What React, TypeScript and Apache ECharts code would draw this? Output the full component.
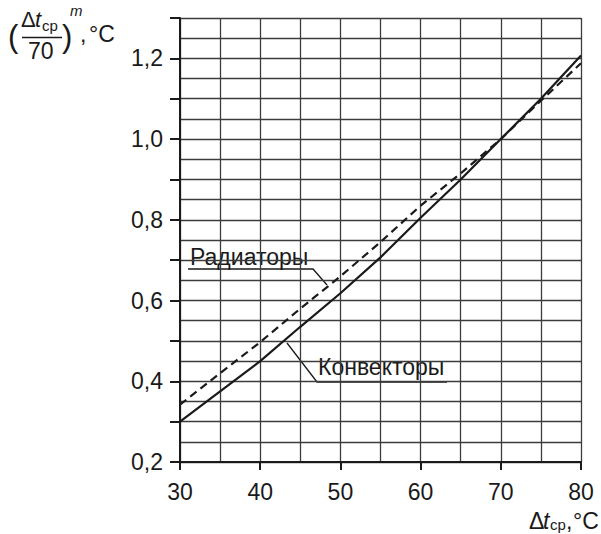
import React, { useEffect, useRef } from "react";
import * as echarts from "echarts";

const dtValues = [30, 35, 40, 45, 50, 55, 60, 65, 70, 75, 80];
const convectors = [0.3, 0.375, 0.45, 0.535, 0.618, 0.707, 0.805, 0.9, 1.0, 1.1, 1.207];
const radiators = [0.342, 0.42, 0.497, 0.58, 0.66, 0.745, 0.835, 0.915, 1.0, 1.095, 1.188];
const seriesNames = ["Конвекторы", "Радиаторы"];

const FONT = "'Liberation Sans', Arial, Helvetica, sans-serif";
const INK = "#1a1a1a";

function txt(text: string, x: number, y: number, size: number, extra: any = {}) {
  return {
    type: "text",
    x,
    y,
    style: {
      text,
      fontSize: size,
      fontFamily: FONT,
      fill: INK,
      verticalAlign: "top",
      ...extra,
    },
  };
}

export default function App() {
  const ref = useRef<HTMLDivElement>(null);
  useEffect(() => {
    if (!ref.current) return;
    const chart = echarts.init(ref.current, undefined, { renderer: "svg" });
    const grid = "#3c3c3c";
    chart.setOption({
      animation: false,
      backgroundColor: "#ffffff",
      grid: { left: 180, right: 20, top: 18, bottom: 72, containLabel: false },
      xAxis: {
        type: "value",
        min: 30,
        max: 80,
        interval: 10,
        axisLine: { show: true, lineStyle: { color: INK, width: 2 } },
        axisTick: { show: true, length: 8, lineStyle: { color: INK, width: 2 } },
        minorTick: { show: false, splitNumber: 2 },
        splitLine: { show: true, lineStyle: { color: grid, width: 1.3 } },
        minorSplitLine: { show: true, lineStyle: { color: grid, width: 1.3 } },
        axisLabel: { fontSize: 23, fontFamily: FONT, color: INK, margin: 18 },
      },
      yAxis: {
        type: "value",
        min: 0.2,
        max: 1.3,
        interval: 0.1,
        axisLine: { show: true, lineStyle: { color: INK, width: 2 } },
        axisTick: { show: true, length: 10, lineStyle: { color: INK, width: 2 } },
        minorTick: { show: false, splitNumber: 2 },
        splitLine: { show: true, lineStyle: { color: grid, width: 1.3 } },
        minorSplitLine: { show: true, lineStyle: { color: grid, width: 1.3 } },
        axisLabel: {
          fontSize: 23,
          fontFamily: FONT,
          color: INK,
          margin: 17,
          formatter: (v: number) =>
            Math.round(v * 10) % 2 === 0 ? v.toFixed(1).replace(".", ",") : "",
        },
      },
      series: [
        {
          name: seriesNames[0],
          type: "line",
          data: dtValues.map((d, i) => [d, convectors[i]]),
          showSymbol: false,
          symbol: "none",
          lineStyle: { color: INK, width: 2.2 },
        },
        {
          name: seriesNames[1],
          type: "line",
          data: dtValues.map((d, i) => [d, radiators[i]]),
          showSymbol: false,
          symbol: "none",
          lineStyle: { color: INK, width: 2.2, type: [8, 5] },
        },
      ],
      graphic: [
        // Y axis title: (Δt_ср / 70)^m, °C
        txt("(", 8, 21, 31, { fontWeight: 300 }),
        txt("Δ", 21, 8, 22),
        txt("t", 35, 8, 22, { fontStyle: "italic" }),
        txt("ср", 42, 18, 15),
        {
          type: "line",
          shape: { x1: 22, y1: 37.5, x2: 62, y2: 37.5 },
          style: { stroke: INK, lineWidth: 1.5 },
        },
        txt("70", 28, 39, 23),
        txt(")", 62, 21, 31, { fontWeight: 300 }),
        txt("m", 70, 3, 15, { fontStyle: "italic" }),
        txt(",", 80, 22, 23),
        txt("°C", 89, 22, 23),
        // X axis title: Δt_ср, °C
        txt("Δ", 529, 509, 23),
        txt("t", 543, 509, 23, { fontStyle: "italic" }),
        txt("ср", 550, 517, 15),
        txt(",", 566, 509, 23),
        txt("°C", 573, 509, 23),
        // Radiators annotation
        txt(seriesNames[1], 190, 245, 23),
        {
          type: "polyline",
          shape: { points: [[188, 269], [313, 269], [327, 285]] },
          style: { stroke: INK, lineWidth: 1.3, fill: "none" },
        },
        // Convectors annotation
        txt(seriesNames[0], 318, 355, 23),
        {
          type: "polyline",
          shape: { points: [[287, 343], [317, 382], [447, 382]] },
          style: { stroke: INK, lineWidth: 1.3, fill: "none" },
        },
      ],
    });
    return () => chart.dispose();
  }, []);
  return (
    <div
      ref={ref}
      style={{ position: "fixed", left: 0, top: 0, width: 601, height: 534, background: "#fff" }}
    />
  );
}
